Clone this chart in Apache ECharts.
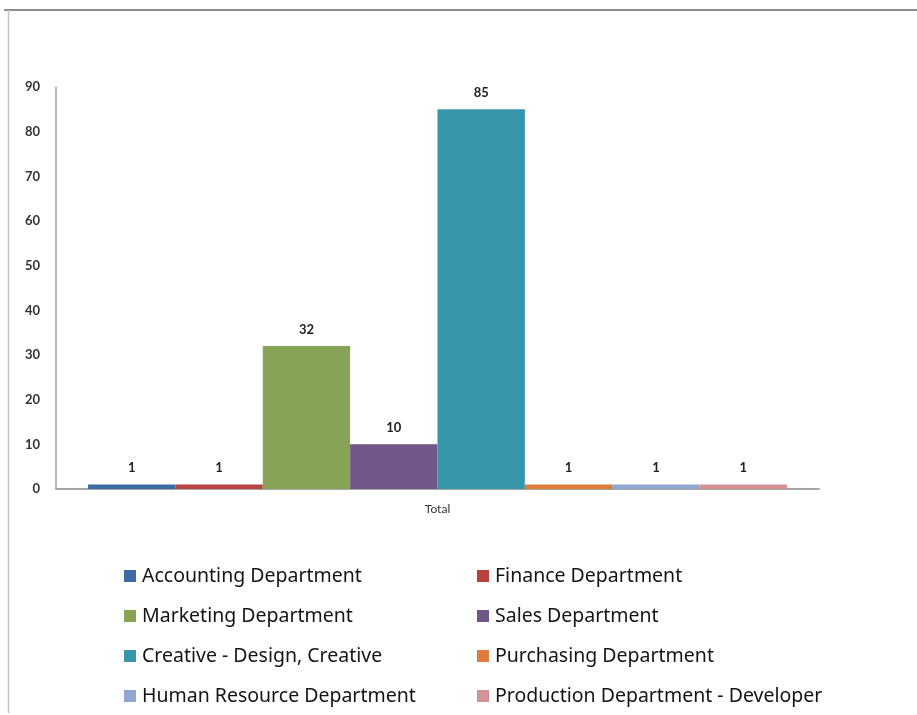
<!DOCTYPE html>
<html>
<head>
<meta charset="utf-8">
<script src="https://cdn.jsdelivr.net/npm/echarts@6/dist/echarts.min.js"></script>
<style>
html, body { margin: 0; padding: 0; background: #fff; }
#chart { width: 917px; height: 715px; }
</style>
</head>
<body>
<div id="chart"></div>
<script>
var categories = ['Total'];
var departments = [
    'Accounting Department', 'Finance Department', 'Marketing Department', 'Sales Department',
    'Creative - Design, Creative', 'Purchasing Department', 'Human Resource Department', 'Production Department - Developer'
];
var values = [1, 1, 32, 10, 85, 1, 1, 1];
var colors = ['#3c6ca6', '#b8423f', '#87a456', '#70578a', '#3896aa', '#e07c3a', '#8ea8cf', '#d39191'];
var yTicks = { min: 0, max: 90, interval: 10 };

var chart = echarts.init(document.getElementById('chart'));

var series = departments.map(function (name, i) {
    return {
        name: name,
        type: 'bar',
        barGap: '0%',
        barCategoryGap: '8.4%',
        itemStyle: { color: colors[i] },
        label: {
            show: true,
            position: 'top',
            distance: 10,
            color: '#222',
            fontFamily: 'Lato',
            fontWeight: 'bold',
            fontSize: 13
        },
        data: [values[i]]
    };
});

var legendLeft = departments.filter(function (d, i) { return i % 2 === 0; });
var legendRight = departments.filter(function (d, i) { return i % 2 === 1; });
var legendBase = {
    orient: 'vertical',
    top: 566,
    padding: 0,
    itemGap: 20,
    itemWidth: 12,
    itemHeight: 12,
    icon: 'rect',
    textStyle: { fontFamily: 'Noto Sans', fontSize: 19.5, lineHeight: 20, color: '#141414', padding: [0, 0, 0, 1] },
    selectedMode: false
};

option = {
    animation: false,
    color: colors,
    grid: { left: 56, right: 98, top: 87, bottom: 226 },
    legend: [
        Object.assign({}, legendBase, { left: 124, data: legendLeft }),
        Object.assign({}, legendBase, { left: 477, data: legendRight })
    ],
    xAxis: {
        type: 'category',
        data: categories,
        axisLine: { lineStyle: { color: '#a6a6a6', width: 2 } },
        axisTick: { show: false },
        axisLabel: { color: '#333', fontFamily: 'Lato', fontSize: 12, margin: 14 }
    },
    yAxis: {
        type: 'value',
        min: yTicks.min,
        max: yTicks.max,
        interval: yTicks.interval,
        axisLine: { show: true, lineStyle: { color: '#a6a6a6', width: 1.5 } },
        axisTick: { show: false },
        splitLine: { show: false },
        axisLabel: { color: '#333', fontFamily: 'Lato', fontWeight: 'bold', fontSize: 13, margin: 16 }
    },
    graphic: [
        { type: 'line', shape: { x1: 4, y1: 10, x2: 917, y2: 10 }, style: { stroke: '#8c8c8c', lineWidth: 2 } },
        { type: 'line', shape: { x1: 8.5, y1: 10, x2: 8.5, y2: 713 }, style: { stroke: '#c4c4c4', lineWidth: 1.5 } }
    ],
    series: series
};

chart.setOption(option);
</script>
</body>
</html>
